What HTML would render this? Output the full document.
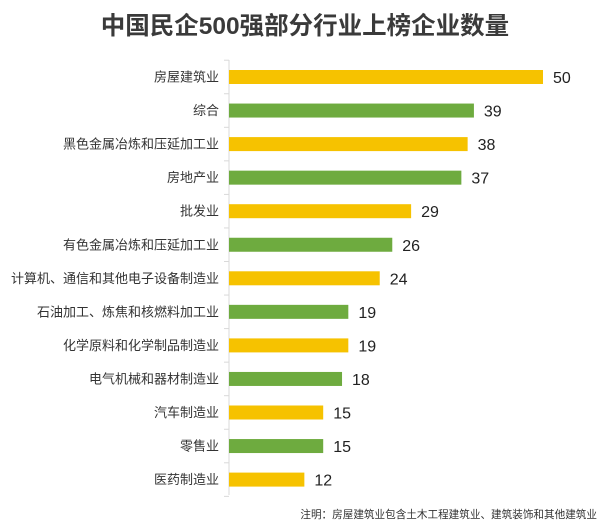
<!DOCTYPE html>
<html><head><meta charset="utf-8"><style>
body{margin:0;background:#fff;}
svg{display:block;font-family:"Liberation Sans","Noto Sans CJK SC",sans-serif;}
</style></head><body>
<svg id="c" width="607" height="528">
<text x="305" y="34" text-anchor="middle" font-size="24.5" font-weight="bold" fill="#3a3a3a">中国民企500强部分行业上榜企业数量</text>
<text x="597" y="518" text-anchor="end" font-size="10.6" fill="#333">注明：房屋建筑业包含土木工程建筑业、建筑装饰和其他建筑业</text>
</svg>
<script>
const categories=["房屋建筑业","综合","黑色金属冶炼和压延加工业","房地产业","批发业","有色金属冶炼和压延加工业","计算机、通信和其他电子设备制造业","石油加工、炼焦和核燃料加工业","化学原料和化学制品制造业","电气机械和器材制造业","汽车制造业","零售业","医药制造业"];
const values=[50,39,38,37,29,26,24,19,19,18,15,15,12];
const colorKeys=["y","g","y","g","y","g","y","g","y","g","y","g","y"];
const NS="http://www.w3.org/2000/svg";
const svg=document.getElementById('c');
const x0=229,xs=v=>x0+v*6.28;
const yc=i=>77+i*33.55;
function mk(t,a){const e=document.createElementNS(NS,t);for(const k in a)e.setAttribute(k,a[k]);svg.appendChild(e);return e;}
const ax=mk('line',{x1:x0,y1:60,x2:x0,y2:495,stroke:'#d9d9d9','stroke-width':1});


for(let i=0;i<=categories.length;i++){const y=yc(i)-16.8;const t=mk('line',{x1:x0-5,y1:y,x2:x0,y2:y,stroke:'#d9d9d9'});

}
categories.forEach((c,i)=>{
 const y=yc(i);
 const l=mk('text',{x:219,y:y+4.5,'text-anchor':'end','font-size':13,fill:'#333'});l.textContent=c;
 
 
 const b=mk('rect',{x:x0,y:y-7,width:xs(values[i])-x0,height:14,fill:colorKeys[i]==='y'?'#F6C200':'#6EAB3F'});
 
 
 const v=mk('text',{x:xs(values[i])+10,y:y+6,'font-size':16,fill:'#222'});v.textContent=values[i];
 
 
});
</script>
</body></html>
